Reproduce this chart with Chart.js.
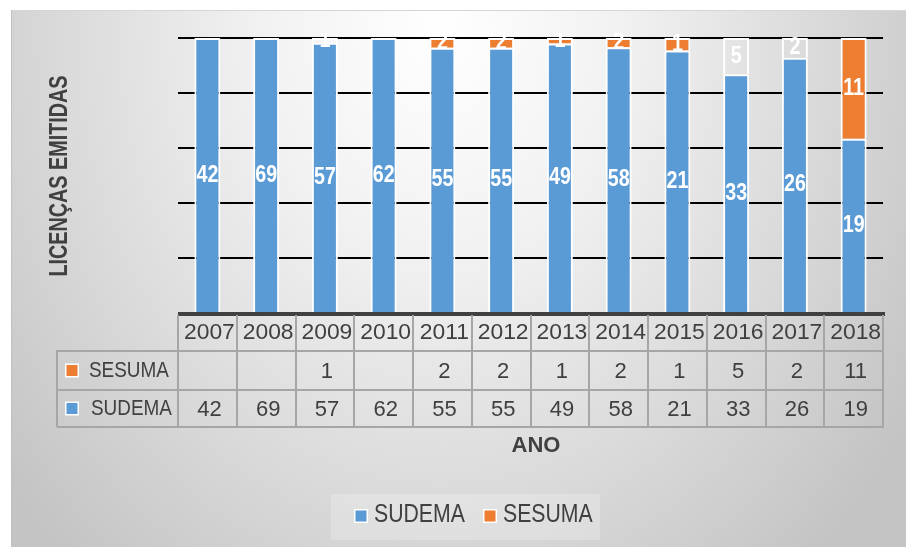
<!DOCTYPE html>
<html>
<head>
<meta charset="utf-8">
<script src="https://cdn.jsdelivr.net/npm/chart.js@4/dist/chart.umd.min.js"></script>
<style>
  html, body { margin: 0; padding: 0; background: #fff; }
  #wrap { width: 906px; height: 547px; position: relative; }
</style>
</head>
<body>
<div id="wrap"><canvas id="chart" width="906" height="547"></canvas></div>
<script>
// dados
const years = ['2007', '2008', '2009', '2010', '2011', '2012', '2013', '2014', '2015', '2016', '2017', '2018'];
const sudema = [42, 69, 57, 62, 55, 55, 49, 58, 21, 33, 26, 19];
const sesuma = [null, null, 1, null, 2, 2, 1, 2, 1, 5, 2, 11];
const seriesNames = ['SUDEMA', 'SESUMA'];
const seriesColors = ['#5B9BD5', '#ED7D31'];
const yTicks = [0, 20, 40, 60, 80, 100];
const axisTitleY = 'LICENÇAS EMITIDAS';
const axisTitleX = 'ANO';
// anos em que a barra SESUMA aparece sem preenchimento
const sesumaNoFill = ['2009', '2016', '2017'];

const totals = years.map((_, i) => sudema[i] + (sesuma[i] || 0));
const sudemaPct = sudema.map((v, i) => v / totals[i] * 100);
const sesumaPct = sesuma.map((v, i) => (v || 0) / totals[i] * 100);
const rawValues = [sudema, sesuma];

const TXT = '#404040';
const TABLE_LINE = '#a6a6a6';

function drawText(ctx, text, x, y, font, color, align, sx) {
  ctx.save();
  ctx.font = font;
  ctx.fillStyle = color;
  ctx.textAlign = align || 'center';
  ctx.textBaseline = 'middle';
  ctx.translate(x, y);
  ctx.scale(sx || 1, 1);
  ctx.fillText(text, 0, 0);
  ctx.restore();
}

function keyBox(ctx, x, y, color) {
  ctx.fillStyle = '#fff';
  ctx.fillRect(x, y, 14, 14);
  ctx.fillStyle = color;
  ctx.fillRect(x + 1.5, y + 1.5, 11, 11);
}

const backgroundPlugin = {
  id: 'bg',
  beforeDraw(chart) {
    const ctx = chart.ctx;
    ctx.save();
    ctx.fillStyle = '#fff';
    ctx.fillRect(0, 0, chart.width, chart.height);
    ctx.beginPath();
    ctx.rect(11, 10, chart.width - 11, chart.height - 10);
    ctx.clip();
    ctx.translate(440, 30);
    ctx.scale(1, 1.25);
    const g = ctx.createRadialGradient(0, 0, 0, 0, 0, 560);
    g.addColorStop(0, '#ffffff');
    g.addColorStop(0.33, '#f1f1f1');
    g.addColorStop(0.66, '#dbdbdb');
    g.addColorStop(1, '#c4c4c4');
    ctx.fillStyle = g;
    ctx.fillRect(-600, -100, 1200, 600);
    ctx.restore();
    ctx.save();
    ctx.fillStyle = '#d6d6d6';
    ctx.fillRect(11, 10, chart.width - 11, 1);
    ctx.fillStyle = '#c0c0c0';
    ctx.fillRect(11, 10, 1, chart.height - 10);
    ctx.restore();
  }
};

const labelsPlugin = {
  id: 'barLabels',
  afterDatasetsDraw(chart) {
    const ctx = chart.ctx;
    const area = chart.chartArea;
    // eixo horizontal escuro
    ctx.save();
    ctx.fillStyle = '#404040';
    ctx.fillRect(area.left, area.bottom - 1, area.right - area.left + 2, 4);
    ctx.restore();
    chart.data.datasets.forEach((ds, di) => {
      const meta = chart.getDatasetMeta(di);
      meta.data.forEach((bar, i) => {
        const v = rawValues[di][i];
        if (!v) return;
        const half = bar.width / 2 - 2;
        ctx.save();
        ctx.beginPath();
        ctx.rect(bar.x - half, area.top - 5, half * 2, area.bottom - area.top + 5);
        ctx.clip();
        drawText(ctx, String(v), bar.x, (bar.y + bar.base) / 2, 'bold 24px "Liberation Sans", Arial, sans-serif', '#fff', 'center', 0.82);
        ctx.restore();
      });
    });
  }
};

const tablePlugin = {
  id: 'dataTable',
  afterDraw(chart) {
    const ctx = chart.ctx;
    const area = chart.chartArea;
    const x = chart.scales.x;
    const colW = (area.right - area.left) / years.length;
    const rowTop = area.bottom;
    const rows = [rowTop, 351, 390, 427];
    const leftEdge = 57;
    const font = '22px "Liberation Sans", Arial, sans-serif';

    ctx.save();
    ctx.fillStyle = TABLE_LINE;
    // linhas horizontais
    for (let r = 1; r < rows.length; r++) {
      ctx.fillRect(leftEdge, rows[r] - 1, area.right - leftEdge + 1, 2);
    }
    // linhas verticais
    for (let c = 0; c <= years.length; c++) {
      const cx = Math.round(area.left + c * colW);
      ctx.fillRect(cx - 1, rowTop + 2, 2, rows[3] - rowTop - 1);
    }
    ctx.fillRect(leftEdge - 1, rows[1] - 1, 2, rows[3] - rows[1] + 1);
    ctx.restore();

    // anos
    years.forEach((yr, i) => {
      const cx = x.getPixelForValue(i);
      const l = area.left + i * colW;
      ctx.save();
      ctx.beginPath();
      ctx.rect(l + 1, rowTop + 2, colW - 2, rows[1] - rowTop - 3);
      ctx.clip();
      drawText(ctx, yr, cx + 2, (rowTop + rows[1]) / 2 + 1, font, TXT, 'center', 1.04);
      ctx.restore();
    });

    // linhas da tabela: SESUMA em cima, SUDEMA embaixo
    const order = [1, 0];
    order.forEach((di, r) => {
      const yMid = (rows[r + 1] + rows[r + 2]) / 2;
      keyBox(ctx, 65, yMid - 7, seriesColors[di]);
      drawText(ctx, seriesNames[di], 89 + r * 2, yMid, font, TXT, 'left', 0.86);
      rawValues[di].forEach((v, i) => {
        if (v === null) return;
        drawText(ctx, String(v), x.getPixelForValue(i) + 2, yMid + 1, font, TXT, 'center', 1.0);
      });
    });

    // titulo do eixo Y
    ctx.save();
    ctx.translate(60, 176);
    ctx.rotate(-Math.PI / 2);
    ctx.font = 'bold 26px "Liberation Sans", Arial, sans-serif';
    const w = ctx.measureText(axisTitleY).width;
    ctx.scale(201 / w, 1);
    ctx.fillStyle = TXT;
    ctx.textAlign = 'center';
    ctx.textBaseline = 'middle';
    ctx.fillText(axisTitleY, 0, 0);
    ctx.restore();

    // titulo do eixo X
    drawText(ctx, axisTitleX, 536, 446, 'bold 22px "Liberation Sans", Arial, sans-serif', TXT, 'center', 1);

    // legenda
    ctx.save();
    ctx.fillStyle = 'rgba(255,255,255,0.22)';
    ctx.fillRect(331, 494, 269, 46);
    ctx.restore();
    const legendX = [354, 483];
    seriesNames.forEach((name, di) => {
      keyBox(ctx, legendX[di], 509, seriesColors[di]);
      drawText(ctx, name, legendX[di] + 20, 515, '25px "Liberation Sans", Arial, sans-serif', TXT, 'left', 0.85);
    });
  }
};

const ctx = document.getElementById('chart').getContext('2d');
new Chart(ctx, {
  type: 'bar',
  data: {
    labels: years,
    datasets: [
      {
        label: seriesNames[0],
        data: sudemaPct,
        backgroundColor: seriesColors[0],
        borderColor: '#ffffff',
        borderWidth: 2,
        borderSkipped: 'start'
      },
      {
        label: seriesNames[1],
        data: sesumaPct,
        backgroundColor: years.map(y => sesumaNoFill.includes(y) ? 'rgba(0,0,0,0)' : seriesColors[1]),
        borderColor: '#ffffff',
        borderWidth: 2,
        borderSkipped: 'start'
      }
    ]
  },
  options: {
    responsive: false,
    animation: false,
    layout: { padding: { left: 178, right: 23, top: 38, bottom: 234 } },
    plugins: { legend: { display: false }, tooltip: { enabled: false } },
    datasets: { bar: { categoryPercentage: 1, barPercentage: 0.443 } },
    scales: {
      x: { stacked: true, display: false },
      y: {
        stacked: true,
        min: yTicks[0],
        max: yTicks[yTicks.length - 1],
        afterFit: s => { s.width = 0; },
        afterBuildTicks: s => { s.ticks = yTicks.map(v => ({ value: v })); },
        ticks: { display: false },
        border: { display: false },
        grid: { color: '#000000', lineWidth: 2, drawTicks: false }
      }
    }
  },
  plugins: [backgroundPlugin, labelsPlugin, tablePlugin]
});
</script>
</body>
</html>
